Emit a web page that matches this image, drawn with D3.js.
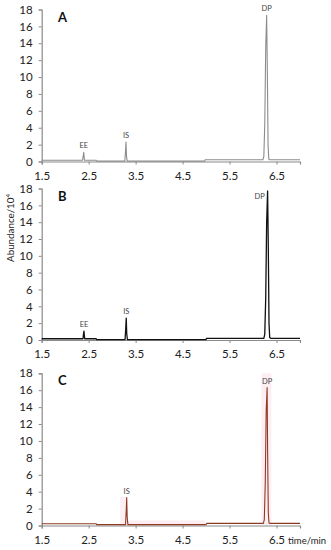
<!DOCTYPE html>
<html><head><meta charset="utf-8">
<script src="https://cdn.jsdelivr.net/npm/d3@7"></script>
<style>body{margin:0;background:#fff}svg{display:block}text{font-family:Lato,"Open Sans",sans-serif}</style>
</head><body>
<svg id="c" width="331" height="550"></svg>
<script>
// ---- data ----
const xTicks = [1.5, 2.5, 3.5, 4.5, 5.5, 6.5];
const yTicks = [0, 2, 4, 6, 8, 10, 12, 14, 16, 18];
const panelNames = ["A", "B", "C"];

const timeA = [1.5, 2.0, 2.37, 2.385, 2.395, 2.41, 2.66, 2.67, 3.27, 3.285, 3.295, 3.305, 3.32, 4.0, 4.97, 4.98, 5.5, 6.21, 6.23, 6.25, 6.27, 6.29, 6.305, 6.32, 6.335, 6.355, 7.0];
const abundA = [0.15, 0.15, 0.15, 0.7, 1.1, 0.15, 0.15, 0.05, 0.05, 1.2, 2.3, 0.7, 0.05, 0.05, 0.05, 0.2, 0.2, 0.2, 0.6, 4.5, 13.5, 17.3, 10.5, 2.0, 0.3, 0.2, 0.2];

const timeB = [1.5, 2.0, 2.38, 2.39, 2.40, 2.415, 2.66, 2.67, 3.275, 3.29, 3.30, 3.31, 3.325, 4.0, 5.0, 5.01, 5.5, 6.23, 6.25, 6.27, 6.29, 6.31, 6.325, 6.34, 6.355, 6.375, 7.0];
const abundB = [0.15, 0.15, 0.15, 0.7, 1.05, 0.15, 0.15, 0.05, 0.05, 1.4, 2.6, 0.8, 0.05, 0.05, 0.05, 0.2, 0.2, 0.2, 0.7, 5.0, 14.0, 17.7, 11.0, 2.0, 0.3, 0.2, 0.2];

const timeC = [1.5, 2.0, 2.66, 2.67, 3.285, 3.30, 3.31, 3.32, 3.335, 4.0, 5.0, 5.01, 5.5, 6.22, 6.24, 6.26, 6.28, 6.30, 6.31, 6.325, 6.34, 6.36, 7.0];
const abundC = [0.2, 0.2, 0.2, 0.1, 0.1, 1.8, 3.3, 1.0, 0.1, 0.1, 0.1, 0.25, 0.25, 0.25, 0.7, 5.0, 13.5, 16.3, 9.0, 1.5, 0.3, 0.25, 0.25];

// peak labels: name, time position, abundance level of label
const peakNamesA = ["EE", "IS", "DP"]; const peakTimesA = [2.395, 3.295, 6.29]; const labelLevelA = [1.1, 2.3, 17.3];
const peakNamesB = ["EE", "IS", "DP"]; const peakTimesB = [2.40, 3.30, 6.14]; const labelLevelB = [1.05, 2.6, 16.3];
const peakNamesC = ["IS", "DP"]; const peakTimesC = [3.31, 6.30]; const labelLevelC = [3.3, 16.3];

// faint highlight bands in panel C: [start, end, top]
const bandStartC = [3.17, 6.18, 3.17];
const bandEndC = [3.29, 6.39, 4.98];
const bandTopC = [3.4, 18, 0.6];

// ---- layout ----
const svg = d3.select("#c");
const panels = [
  {name: "A", t: timeA, v: abundA, color: "#8c8c8c", lw: 1.1, top: 9.5, bottom: 161.5, pn: peakNamesA, pt: peakTimesA, pv: labelLevelA},
  {name: "B", t: timeB, v: abundB, color: "#111111", lw: 1.3, top: 188.5, bottom: 340, pn: peakNamesB, pt: peakTimesB, pv: labelLevelB},
  {name: "C", t: timeC, v: abundC, color: "#8e3a22", lw: 1.1, top: 373.3, bottom: 525.5, pn: peakNamesC, pt: peakTimesC, pv: labelLevelC}
];
const x = d3.scaleLinear().domain([1.5, 7.0]).range([41.7, 300]);
const axisColor = "#8a8a8a";

panels.forEach((p, i) => {
  const y = d3.scaleLinear().domain([0, 18]).range([p.bottom, p.top]);
  const g = svg.append("g");

  if (p.name === "C") {
    bandStartC.forEach((s, k) => {
      g.append("rect").attr("x", x(s)).attr("width", x(bandEndC[k]) - x(s))
        .attr("y", y(bandTopC[k])).attr("height", y(0) - y(bandTopC[k]))
        .attr("fill", "#fdeef4");
    });
  }

  const ya = g.append("g").attr("transform", `translate(${x(1.5)},0)`)
    .call(d3.axisLeft(y).tickValues(yTicks).tickSize(3).tickPadding(6));
  const xa = g.append("g").attr("transform", `translate(0,${y(0)})`)
    .call(d3.axisBottom(x).tickValues(xTicks).tickFormat(d3.format(".1f")).tickSize(3).tickPadding(7));
  [ya, xa].forEach(a => {
    a.select(".domain").attr("stroke", axisColor).attr("stroke-width", 1.2);
    a.selectAll(".tick line").attr("stroke", axisColor);
    a.selectAll(".tick text").attr("fill", "#222").style("font-size", "11.5px");
  });

  const pts = p.t.map((d, k) => [d, p.v[k]]);
  g.append("path").datum(pts)
    .attr("d", d3.line().x(d => x(d[0])).y(d => y(d[1])))
    .attr("fill", "none").attr("stroke", p.color).attr("stroke-width", p.lw)
    .attr("stroke-linejoin", "round");

  g.append("text").attr("x", 58).attr("y", p.top + 12).text(p.name)
    .style("font-size", "13px").style("font-weight", "bold").attr("fill", "#111");

  p.pn.forEach((n, k) => {
    g.append("text").attr("x", x(p.pt[k])).attr("y", y(p.pv[k]) - 4)
      .attr("text-anchor", "middle").style("font-size", "7.5px").attr("fill", "#444").text(n);
  });
});

// axis titles
svg.append("text").attr("transform", "translate(14,228) rotate(-90)")
  .attr("text-anchor", "middle").style("font-size", "9.8px").attr("fill", "#222")
  .text("Abundance/10").append("tspan").attr("dy", -4).style("font-size", "6px").text("4");
svg.append("text").attr("x", 288).attr("y", 544).style("font-size", "9.5px").attr("fill", "#222").text("time/min");
</script>
</body></html>
